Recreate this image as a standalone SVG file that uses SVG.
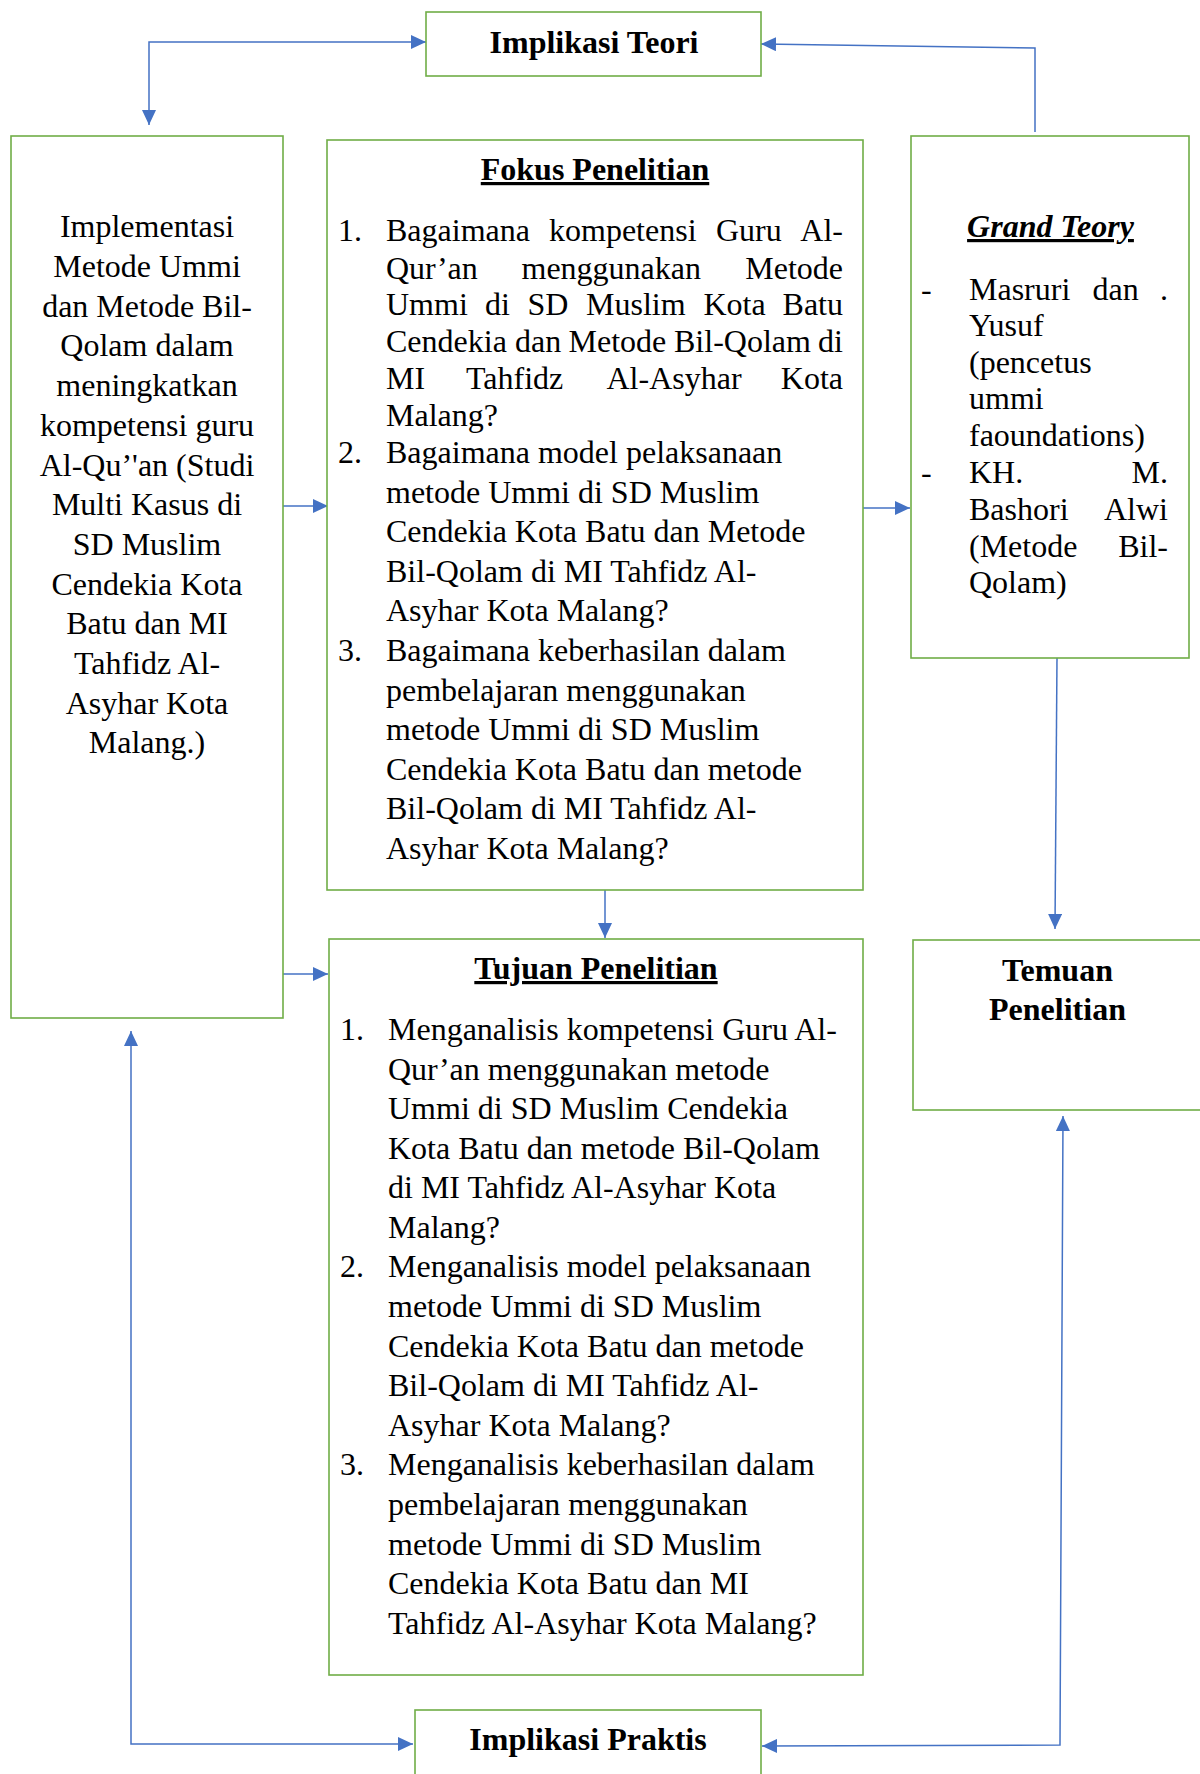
<svg xmlns="http://www.w3.org/2000/svg" width="1200" height="1774" viewBox="0 0 1200 1774">
<style>
.box{fill:#fff;stroke:#70AD47;stroke-width:1.6}
.t{font-family:"Liberation Serif","Times New Roman",serif;font-size:32px;fill:#000}
.b{font-weight:bold}
.c{text-anchor:middle}
.e{text-anchor:end}
.u{text-decoration:underline}
.con{fill:none;stroke:#4472C4;stroke-width:1.5}
</style>
<defs>
<marker id="ah" markerUnits="userSpaceOnUse" markerWidth="16" markerHeight="14" refX="15" refY="7" orient="auto-start-reverse">
<path d="M0,0 L15,7 L0,14 z" fill="#4472C4"/>
</marker>
</defs>
<rect width="1200" height="1774" fill="#fff"/>

<g id="connectors">
<path class="con" d="M149,125 L149,42 L426,42" marker-start="url(#ah)" marker-end="url(#ah)"/>
<path class="con" d="M1035,132 L1035,48 L761,44" marker-end="url(#ah)"/>
<path class="con" d="M283,506 L328,506" marker-end="url(#ah)"/>
<path class="con" d="M283,974 L328,974" marker-end="url(#ah)"/>
<path class="con" d="M863,508 L910,508" marker-end="url(#ah)"/>
<path class="con" d="M605,890 L605,938" marker-end="url(#ah)"/>
<path class="con" d="M1057,657 L1055,929" marker-end="url(#ah)"/>
<path class="con" d="M131,1031 L131,1744 L413,1744" marker-start="url(#ah)" marker-end="url(#ah)"/>
<path class="con" d="M1063,1116 L1060,1745 L762,1746" marker-start="url(#ah)" marker-end="url(#ah)"/>
</g>

<g id="implikasi-teori">
<rect class="box" x="426" y="12" width="335" height="64"/>
<text class="t b c" x="594" y="53">Implikasi Teori</text>
</g>

<g id="implementasi">
<rect class="box" x="11" y="136" width="272" height="882"/>
<text class="t c" x="147" y="237">Implementasi</text>
<text class="t c" x="147" y="276.5">Metode Ummi</text>
<text class="t c" x="147" y="316.5">dan Metode Bil-</text>
<text class="t c" x="147" y="356">Qolam dalam</text>
<text class="t c" x="147" y="396">meningkatkan</text>
<text class="t c" x="147" y="435.5">kompetensi guru</text>
<text class="t c" x="147" y="475.5">Al-Qu’'an (Studi</text>
<text class="t c" x="147" y="515">Multi Kasus di</text>
<text class="t c" x="147" y="555">SD Muslim</text>
<text class="t c" x="147" y="594.5">Cendekia Kota</text>
<text class="t c" x="147" y="634">Batu dan MI</text>
<text class="t c" x="147" y="674">Tahfidz Al-</text>
<text class="t c" x="147" y="713.5">Asyhar Kota</text>
<text class="t c" x="147" y="753">Malang.)</text>
</g>

<g id="fokus">
<rect class="box" x="327" y="140" width="536" height="750"/>
<text class="t b c u" x="595" y="180">Fokus Penelitian</text>
<text class="t" x="338" y="241">1.</text>
<text class="t" x="386" y="241">Bagaimana</text><text class="t" x="549" y="241">kompetensi</text><text class="t" x="716" y="241">Guru</text><text class="t e" x="843" y="241">Al-</text>
<text class="t" x="386" y="278.5">Qur’an</text><text class="t" x="521.5" y="278.5">menggunakan</text><text class="t e" x="843" y="278.5">Metode</text>
<text class="t" x="386" y="315">Ummi</text><text class="t" x="485" y="315">di</text><text class="t" x="527.5" y="315">SD</text><text class="t" x="586" y="315">Muslim</text><text class="t" x="703.5" y="315">Kota</text><text class="t e" x="843" y="315">Batu</text>
<text class="t" x="386" y="352">Cendekia</text><text class="t" x="515" y="352">dan</text><text class="t" x="568.5" y="352">Metode</text><text class="t" x="674" y="352">Bil-Qolam</text><text class="t e" x="843" y="352">di</text>
<text class="t" x="386" y="389">MI</text><text class="t" x="466" y="389">Tahfidz</text><text class="t" x="606.5" y="389">Al-Asyhar</text><text class="t e" x="843" y="389">Kota</text>
<text class="t" x="386" y="425.5">Malang?</text>
<text class="t" x="338" y="463">2.</text>
<text class="t" x="386" y="463">Bagaimana model pelaksanaan</text>
<text class="t" x="386" y="502.5">metode Ummi di SD Muslim</text>
<text class="t" x="386" y="542">Cendekia Kota Batu dan Metode</text>
<text class="t" x="386" y="581.5">Bil-Qolam di MI Tahfidz Al-</text>
<text class="t" x="386" y="621">Asyhar Kota Malang?</text>
<text class="t" x="338" y="661">3.</text>
<text class="t" x="386" y="661">Bagaimana keberhasilan dalam</text>
<text class="t" x="386" y="700.5">pembelajaran menggunakan</text>
<text class="t" x="386" y="740">metode Ummi di SD Muslim</text>
<text class="t" x="386" y="779.5">Cendekia Kota Batu dan metode</text>
<text class="t" x="386" y="819">Bil-Qolam di MI Tahfidz Al-</text>
<text class="t" x="386" y="858.5">Asyhar Kota Malang?</text>
</g>

<g id="grand-teory">
<rect class="box" x="911" y="136" width="278" height="522"/>
<text class="t b c u" x="1050.5" y="237" font-style="italic">Grand Teory</text>
<text class="t" x="921" y="300">-</text>
<text class="t" x="969" y="300">Masruri</text><text class="t" x="1092.5" y="300">dan</text><text class="t e" x="1168" y="300">.</text>
<text class="t" x="969" y="335.5">Yusuf</text>
<text class="t" x="969" y="372.5">(pencetus</text>
<text class="t" x="969" y="409">ummi</text>
<text class="t" x="969" y="446">faoundations)</text>
<text class="t" x="921" y="483">-</text>
<text class="t" x="969" y="483">KH.</text><text class="t e" x="1168" y="483">M.</text>
<text class="t" x="969" y="519.5">Bashori</text><text class="t e" x="1168" y="519.5">Alwi</text>
<text class="t" x="969" y="556.5">(Metode</text><text class="t e" x="1168" y="556.5">Bil-</text>
<text class="t" x="969" y="593">Qolam)</text>
</g>

<g id="tujuan">
<rect class="box" x="329" y="939" width="534" height="736"/>
<text class="t b c u" x="596" y="979">Tujuan Penelitian</text>
<text class="t" x="340" y="1040">1.</text>
<text class="t" x="388" y="1040">Menganalisis kompetensi Guru Al-</text>
<text class="t" x="388" y="1079.5">Qur’an menggunakan metode</text>
<text class="t" x="388" y="1119">Ummi di SD Muslim Cendekia</text>
<text class="t" x="388" y="1158.5">Kota Batu dan metode Bil-Qolam</text>
<text class="t" x="388" y="1198">di MI Tahfidz Al-Asyhar Kota</text>
<text class="t" x="388" y="1237.5">Malang?</text>
<text class="t" x="340" y="1277">2.</text>
<text class="t" x="388" y="1277">Menganalisis model pelaksanaan</text>
<text class="t" x="388" y="1317">metode Ummi di SD Muslim</text>
<text class="t" x="388" y="1356.5">Cendekia Kota Batu dan metode</text>
<text class="t" x="388" y="1396">Bil-Qolam di MI Tahfidz Al-</text>
<text class="t" x="388" y="1435.5">Asyhar Kota Malang?</text>
<text class="t" x="340" y="1475">3.</text>
<text class="t" x="388" y="1475">Menganalisis keberhasilan dalam</text>
<text class="t" x="388" y="1515">pembelajaran menggunakan</text>
<text class="t" x="388" y="1554.5">metode Ummi di SD Muslim</text>
<text class="t" x="388" y="1594">Cendekia Kota Batu dan MI</text>
<text class="t" x="388" y="1634">Tahfidz Al-Asyhar Kota Malang?</text>
</g>

<g id="temuan">
<rect class="box" x="913" y="940" width="300" height="170"/>
<text class="t b c" x="1057.5" y="981">Temuan</text>
<text class="t b c" x="1057.5" y="1020">Penelitian</text>
</g>

<g id="implikasi-praktis">
<rect class="box" x="415" y="1710" width="346" height="80"/>
<text class="t b c" x="588" y="1750">Implikasi Praktis</text>
</g>
</svg>
